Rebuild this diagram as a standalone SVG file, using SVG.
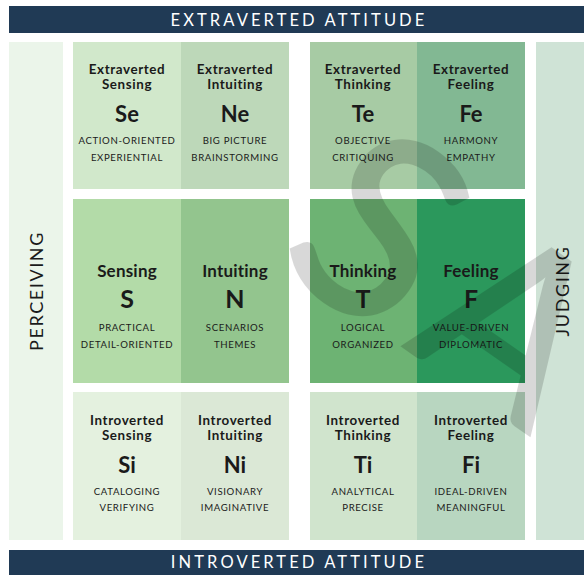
<svg xmlns="http://www.w3.org/2000/svg" width="584" height="575" viewBox="0 0 584 575">
<style>
text{font-family:Lato,"Liberation Sans",sans-serif;fill:#1a1a1a;text-anchor:middle}
.ban{fill:#203a55}
.bt{fill:#fff;font-size:16.5px;letter-spacing:3.1px}
.side{font-size:18px;letter-spacing:1.6px;fill:#1a1a1a}
.lb{font-size:13.4px;font-weight:700;letter-spacing:0.6px}
.cd{font-size:22px;font-weight:700}
.lbm{font-size:17px;font-weight:700;letter-spacing:0.2px}
.cdm{font-size:25px;font-weight:700}
.kw{font-size:9.6px;letter-spacing:0.65px}
#watermark{opacity:0.15}
#watermark text{font-weight:400;fill:#000;stroke:#000;stroke-width:3;text-anchor:start}
</style>
<rect width="584" height="575" fill="#fff"/>
<g id="banner-top"><rect class="ban" x="9" y="6" width="575" height="27"/><text class="bt" x="299" y="25.5">EXTRAVERTED ATTITUDE</text></g>
<g id="banner-bottom"><rect class="ban" x="9" y="550" width="575" height="25"/><text class="bt" x="299" y="568">INTROVERTED ATTITUDE</text></g>
<g id="perceiving"><rect x="9" y="42" width="54" height="498" fill="#ebf5ea"/><text class="side" transform="translate(42.5,291) rotate(-90)">PERCEIVING</text></g>
<g id="judging"><rect x="536" y="42" width="48" height="498" fill="#cfe3d6"/><text class="side" transform="translate(569,291) rotate(-90)">JUDGING</text></g>

<g id="Se"><rect x="73" y="42" width="108" height="147" fill="#d1e8cb"/><text class="lb" x="127" y="74">Extraverted</text><text class="lb" x="127" y="89">Sensing</text><text class="cd" x="127" y="122">Se</text><text class="kw" x="127" y="144">ACTION-ORIENTED</text><text class="kw" x="127" y="161">EXPERIENTIAL</text></g>
<g id="Ne"><rect x="181" y="42" width="108" height="147" fill="#bdd8b9"/><text class="lb" x="235" y="74">Extraverted</text><text class="lb" x="235" y="89">Intuiting</text><text class="cd" x="235" y="122">Ne</text><text class="kw" x="235" y="144">BIG PICTURE</text><text class="kw" x="235" y="161">BRAINSTORMING</text></g>
<g id="Te"><rect x="310" y="42" width="107" height="147" fill="#a7cba4"/><text class="lb" x="363" y="74">Extraverted</text><text class="lb" x="363" y="89">Thinking</text><text class="cd" x="363" y="122">Te</text><text class="kw" x="363" y="144">OBJECTIVE</text><text class="kw" x="363" y="161">CRITIQUING</text></g>
<g id="Fe"><rect x="417" y="42" width="108" height="147" fill="#82b893"/><text class="lb" x="471" y="74">Extraverted</text><text class="lb" x="471" y="89">Feeling</text><text class="cd" x="471" y="122">Fe</text><text class="kw" x="471" y="144">HARMONY</text><text class="kw" x="471" y="161">EMPATHY</text></g>

<g id="S"><rect x="73" y="199" width="108" height="184" fill="#b3dba8"/><text class="lbm" x="127" y="277">Sensing</text><text class="cdm" x="127" y="308">S</text><text class="kw" x="127" y="331">PRACTICAL</text><text class="kw" x="127" y="348">DETAIL-ORIENTED</text></g>
<g id="N"><rect x="181" y="199" width="108" height="184" fill="#93c58e"/><text class="lbm" x="235" y="277">Intuiting</text><text class="cdm" x="235" y="308">N</text><text class="kw" x="235" y="331">SCENARIOS</text><text class="kw" x="235" y="348">THEMES</text></g>
<g id="T"><rect x="310" y="199" width="107" height="184" fill="#6db373"/><text class="lbm" x="363" y="277">Thinking</text><text class="cdm" x="363" y="308">T</text><text class="kw" x="363" y="331">LOGICAL</text><text class="kw" x="363" y="348">ORGANIZED</text></g>
<g id="F"><rect x="417" y="199" width="108" height="184" fill="#2b985c"/><text class="lbm" x="471" y="277">Feeling</text><text class="cdm" x="471" y="308">F</text><text class="kw" x="471" y="331">VALUE-DRIVEN</text><text class="kw" x="471" y="348">DIPLOMATIC</text></g>

<g id="Si"><rect x="73" y="392" width="108" height="148" fill="#e4f1df"/><text class="lb" x="127" y="425">Introverted</text><text class="lb" x="127" y="440">Sensing</text><text class="cd" x="127" y="473">Si</text><text class="kw" x="127" y="495">CATALOGING</text><text class="kw" x="127" y="511">VERIFYING</text></g>
<g id="Ni"><rect x="181" y="392" width="108" height="148" fill="#dbe8d6"/><text class="lb" x="235" y="425">Introverted</text><text class="lb" x="235" y="440">Intuiting</text><text class="cd" x="235" y="473">Ni</text><text class="kw" x="235" y="495">VISIONARY</text><text class="kw" x="235" y="511">IMAGINATIVE</text></g>
<g id="Ti"><rect x="310" y="392" width="107" height="148" fill="#d0e4cd"/><text class="lb" x="363" y="425">Introverted</text><text class="lb" x="363" y="440">Thinking</text><text class="cd" x="363" y="473">Ti</text><text class="kw" x="363" y="495">ANALYTICAL</text><text class="kw" x="363" y="511">PRECISE</text></g>
<g id="Fi"><rect x="417" y="392" width="108" height="148" fill="#b8d6c0"/><text class="lb" x="471" y="425">Introverted</text><text class="lb" x="471" y="440">Feeling</text><text class="cd" x="471" y="473">Fi</text><text class="kw" x="471" y="495">IDEAL-DRIVEN</text><text class="kw" x="471" y="511">MEANINGFUL</text></g>

<g id="watermark">
<text font-size="255" transform="translate(272,262.4) rotate(35)">S</text>
<text font-size="230" transform="translate(402.4,345.9) rotate(35)">A</text>
</g>
</svg>
